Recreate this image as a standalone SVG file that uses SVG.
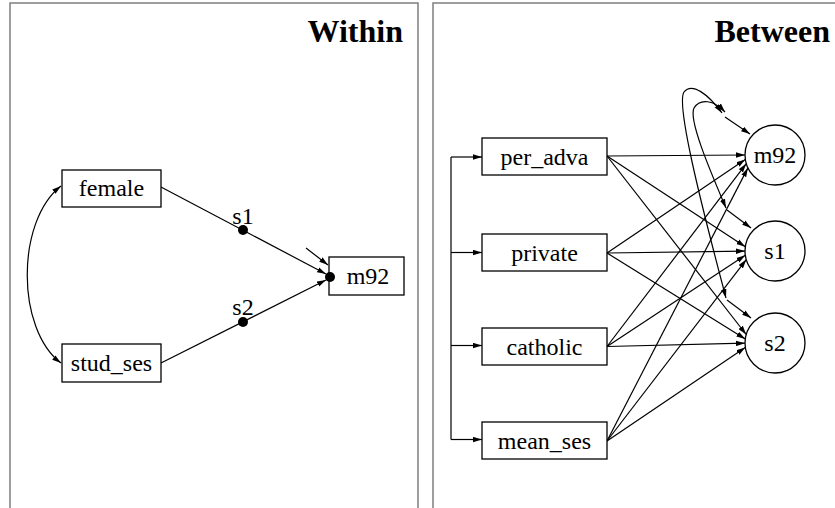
<svg xmlns="http://www.w3.org/2000/svg" width="835" height="508" viewBox="0 0 835 508">
<style>
text{font-family:"Liberation Serif","Times New Roman",serif;fill:#000}
.lbl{font-size:24px;text-anchor:middle}
.title{font-size:32px;font-weight:bold;text-anchor:end}
.box{fill:#fff;stroke:#000;stroke-width:1.3}
.panel{fill:none;stroke:#7f7f7f;stroke-width:1.5}
.c{fill:none;stroke:#000;stroke-width:1.2}
.a{fill:none;stroke:#000;stroke-width:1.2;marker-end:url(#ah)}
.d{fill:none;stroke:#000;stroke-width:1.2;marker-end:url(#ah);marker-start:url(#ah)}
</style>
<defs>
<marker id="ah" viewBox="0 0 10 6" refX="10" refY="3" markerWidth="9" markerHeight="6" orient="auto-start-reverse" markerUnits="userSpaceOnUse">
<path d="M0,0 L10,3 L0,6 z" fill="#000"/>
</marker>
</defs>
<rect width="835" height="508" fill="#fff"/>
<g id="panels">
<path class="panel" d="M10,512 V3 H418 V512"/>
<path class="panel" d="M433,512 V3 H840"/>
<text class="title" x="403" y="42">Within</text>
<text class="title" x="830" y="42">Between</text>
</g>
<g id="connectors">
<!-- within -->
<path class="d" d="M61,186 C16,221 16,329 61,363"/>
<path class="a" d="M161,187 L326,274"/>
<path class="a" d="M161,363 L326,280"/>
<path class="a" d="M306,248 L328,265"/>
<!-- between feeders -->
<path class="c" d="M451,157 V439.5"/>
<path class="a" d="M451,157 H482"/>
<path class="a" d="M451,252.5 H482"/>
<path class="a" d="M451,345.5 H482"/>
<path class="a" d="M451,439.5 H482"/>
<!-- to m92 -->
<path class="a" d="M607,156 L745,155"/>
<path class="a" d="M607,253 L745.3,159.4"/>
<path class="a" d="M607,346.5 L746.3,163.6"/>
<path class="a" d="M607,441 L747.9,167.9"/>
<!-- to s1 -->
<path class="a" d="M607,156 L745.3,246.7"/>
<path class="a" d="M607,253 L745,251.1"/>
<path class="a" d="M607,346.5 L745.3,255.3"/>
<path class="a" d="M607,441 L746.3,259.6"/>
<!-- to s2 -->
<path class="a" d="M607,156 L746.2,334.5"/>
<path class="a" d="M607,253 L745.3,338.9"/>
<path class="a" d="M607,346.5 L745,343.2"/>
<path class="a" d="M607,441 L745.3,347.4"/>
<!-- residuals -->
<path class="a" d="M725,117 L750,134"/>
<path class="a" d="M727,210 L751,228"/>
<path class="a" d="M727,300 L751,318"/>
<!-- covariances -->
<path class="d" d="M722,113 C708,94 692,82 684,92 C676,104 700,200 726,298"/>
<path class="d" d="M725,112 C714,100 700,98 694,108 C688,120 712,175 726,208"/>
</g>
<g id="female"><rect class="box" x="62" y="170" width="99" height="37"/><text class="lbl" x="111.5" y="196">female</text></g>
<g id="stud_ses"><rect class="box" x="62" y="344" width="99" height="38"/><text class="lbl" x="111.5" y="371">stud_ses</text></g>
<g id="m92_within"><rect class="box" x="329" y="257" width="75" height="38"/><text class="lbl" x="368" y="284">m92</text><circle cx="330" cy="277" r="5" fill="#000"/></g>
<g id="s1_dot"><circle cx="243" cy="230" r="5" fill="#000"/><text class="lbl" x="243" y="224">s1</text></g>
<g id="s2_dot"><circle cx="243" cy="322" r="5" fill="#000"/><text class="lbl" x="243" y="315">s2</text></g>
<g id="per_adva"><rect class="box" x="482" y="138" width="125" height="37"/><text class="lbl" x="544.5" y="165">per_adva</text></g>
<g id="private"><rect class="box" x="482" y="234" width="125" height="37"/><text class="lbl" x="544.5" y="260.5">private</text></g>
<g id="catholic"><rect class="box" x="482" y="328" width="125" height="37"/><text class="lbl" x="544.5" y="354.5">catholic</text></g>
<g id="mean_ses"><rect class="box" x="482" y="422" width="125" height="37"/><text class="lbl" x="544.5" y="448.5">mean_ses</text></g>
<g id="m92"><circle class="box" cx="775" cy="155" r="30"/><text class="lbl" x="775" y="163">m92</text></g>
<g id="s1"><circle class="box" cx="775" cy="251" r="30"/><text class="lbl" x="775" y="259">s1</text></g>
<g id="s2"><circle class="box" cx="775" cy="343" r="30"/><text class="lbl" x="775" y="351">s2</text></g>
</svg>
